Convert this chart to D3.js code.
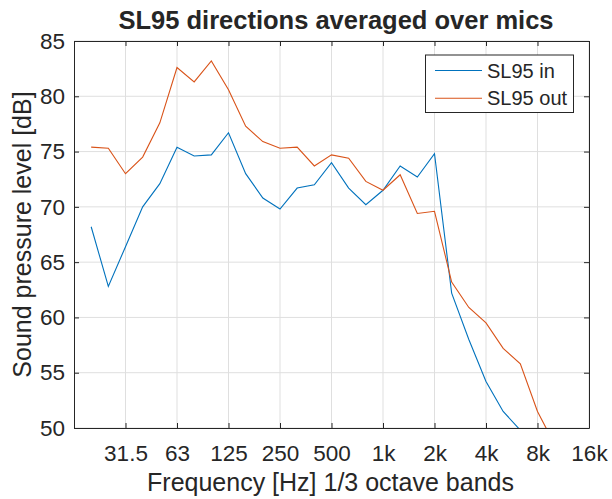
<!DOCTYPE html>
<html>
<head>
<meta charset="utf-8">
<script src="https://cdn.jsdelivr.net/npm/d3@7"></script>
<style>
  html, body { margin: 0; padding: 0; background: #ffffff; }
  svg { display: block; }
  text { font-family: "Liberation Sans", Arial, Helvetica, sans-serif; fill: #262626; }
</style>
</head>
<body>
<svg id="chart" width="612" height="499"></svg>
<script>
// 1/3-octave band centre labels, one per data point (20 Hz ... 10 kHz)
const bands = ["20","25","31.5","40","50","63","80","100","125","160","200","250",
  "315","400","500","630","800","1k","1.25k","1.6k","2k","2.5k","3.15k","4k",
  "5k","6.3k","8k","10k"];

// SL95 levels in dB, averaged over microphones
const sl95In = [68.2, 62.8, 66.4, 70.0, 72.1, 75.4, 74.6, 74.7, 76.7, 73.0, 70.8, 69.8,
  71.7, 72.0, 74.0, 71.7, 70.2, 71.5, 73.7, 72.7, 74.8, 62.2, 58.0, 54.2,
  51.5, 49.8, null, null];
const sl95Out = [75.4, 75.3, 73.0, 74.5, 77.6, 82.6, 81.3, 83.2, 80.6, 77.3, 75.9, 75.3,
  75.4, 73.7, 74.7, 74.4, 72.3, 71.5, 72.9, 69.4, 69.6, 63.2, 60.9, 59.5,
  57.2, 55.8, 51.5, 48.5];

// Octave ticks on the band axis (band index 0 = 16 Hz)
const xTickIdx = [3, 6, 9, 12, 15, 18, 21, 24, 27, 30];
const xTickLabels = ["31.5","63","125","250","500","1k","2k","4k","8k","16k"];
const yTicks = [50, 55, 60, 65, 70, 75, 80, 85];

const seriesNames = ["SL95 in", "SL95 out"];
const seriesColors = ["#0072BD", "#D95319"];

const svg = d3.select("#chart");
const m = { left: 74, right: 589, top: 41, bottom: 428 };

const x = d3.scaleLinear().domain([0, 30]).range([m.left, m.right]);
const y = d3.scaleLinear().domain([50, 85]).range([m.bottom, m.top]);

// grid
const grid = svg.append("g");
grid.selectAll("line.v").data(xTickIdx).join("line")
  .attr("x1", d => x(d)).attr("x2", d => x(d))
  .attr("y1", m.top).attr("y2", m.bottom)
  .attr("stroke", "#dfdfdf").attr("stroke-width", 1);
grid.selectAll("line.h").data(yTicks).join("line")
  .attr("x1", m.left).attr("x2", m.right)
  .attr("y1", d => y(d)).attr("y2", d => y(d))
  .attr("stroke", "#dfdfdf").attr("stroke-width", 1);

// clip for data lines
svg.append("clipPath").attr("id", "plotclip").append("rect")
  .attr("x", m.left).attr("y", m.top)
  .attr("width", m.right - m.left).attr("height", m.bottom - m.top);

const line = d3.line()
  .defined(d => d.v != null)
  .x(d => x(d.i))
  .y(d => y(d.v));

[sl95In, sl95Out].forEach((vals, k) => {
  const pts = vals.map((v, j) => ({ i: j + 1, v, band: bands[j] }));
  svg.append("path")
    .datum(pts)
    .attr("clip-path", "url(#plotclip)")
    .attr("fill", "none")
    .attr("stroke", seriesColors[k])
    .attr("stroke-width", 1.1)
    .attr("d", line);
});

// axes (ticks pointing inward, box on all four sides)
const tickFmtX = d => xTickLabels[xTickIdx.indexOf(d)];
const axStyle = g => {
  g.select(".domain").attr("stroke", "#262626").attr("stroke-width", 1);
  g.selectAll(".tick line").attr("stroke", "#262626");
  g.selectAll("text").attr("fill", "#262626").attr("font-size", 22.5)
    .attr("font-family", '"Liberation Sans", Arial, sans-serif');
};

svg.append("g").attr("transform", `translate(0,${m.bottom})`)
  .call(d3.axisBottom(x).tickValues(xTickIdx).tickFormat(tickFmtX)
    .tickSizeInner(-5).tickSizeOuter(0).tickPadding(17))
  .call(axStyle);
svg.append("g").attr("transform", `translate(0,${m.top})`)
  .call(d3.axisTop(x).tickValues(xTickIdx).tickFormat("")
    .tickSizeInner(-5).tickSizeOuter(0))
  .call(axStyle);
svg.append("g").attr("transform", `translate(${m.left},0)`)
  .call(d3.axisLeft(y).tickValues(yTicks).tickFormat(d3.format("d"))
    .tickSizeInner(-5).tickSizeOuter(0).tickPadding(9))
  .call(axStyle);
svg.append("g").attr("transform", `translate(${m.right},0)`)
  .call(d3.axisRight(y).tickValues(yTicks).tickFormat("")
    .tickSizeInner(-5).tickSizeOuter(0))
  .call(axStyle);

// title and axis labels
svg.append("text")
  .attr("x", 336).attr("y", 29)
  .attr("text-anchor", "middle")
  .attr("font-size", 25.5).attr("font-weight", "bold")
  .attr("fill", "#000")
  .text("SL95 directions averaged over mics");

svg.append("text")
  .attr("x", 330.5).attr("y", 491)
  .attr("text-anchor", "middle")
  .attr("font-size", 25)
  .text("Frequency [Hz] 1/3 octave bands");

svg.append("text")
  .attr("transform", `translate(31,${(m.top + m.bottom) / 2}) rotate(-90)`)
  .attr("text-anchor", "middle")
  .attr("font-size", 25)
  .text("Sound pressure level [dB]");

// legend
const lg = svg.append("g");
lg.append("rect")
  .attr("x", 425.5).attr("y", 55).attr("width", 148).attr("height", 57.5)
  .attr("fill", "#fff").attr("stroke", "#262626").attr("stroke-width", 1);
seriesNames.forEach((name, k) => {
  const cy = 70.5 + k * 27.7;
  lg.append("line")
    .attr("x1", 435).attr("x2", 482).attr("y1", cy).attr("y2", cy)
    .attr("stroke", seriesColors[k]).attr("stroke-width", 1.1);
  lg.append("text")
    .attr("x", 487).attr("y", cy).attr("dy", "0.35em")
    .attr("font-size", 20)
    .text(name);
});
</script>
</body>
</html>
